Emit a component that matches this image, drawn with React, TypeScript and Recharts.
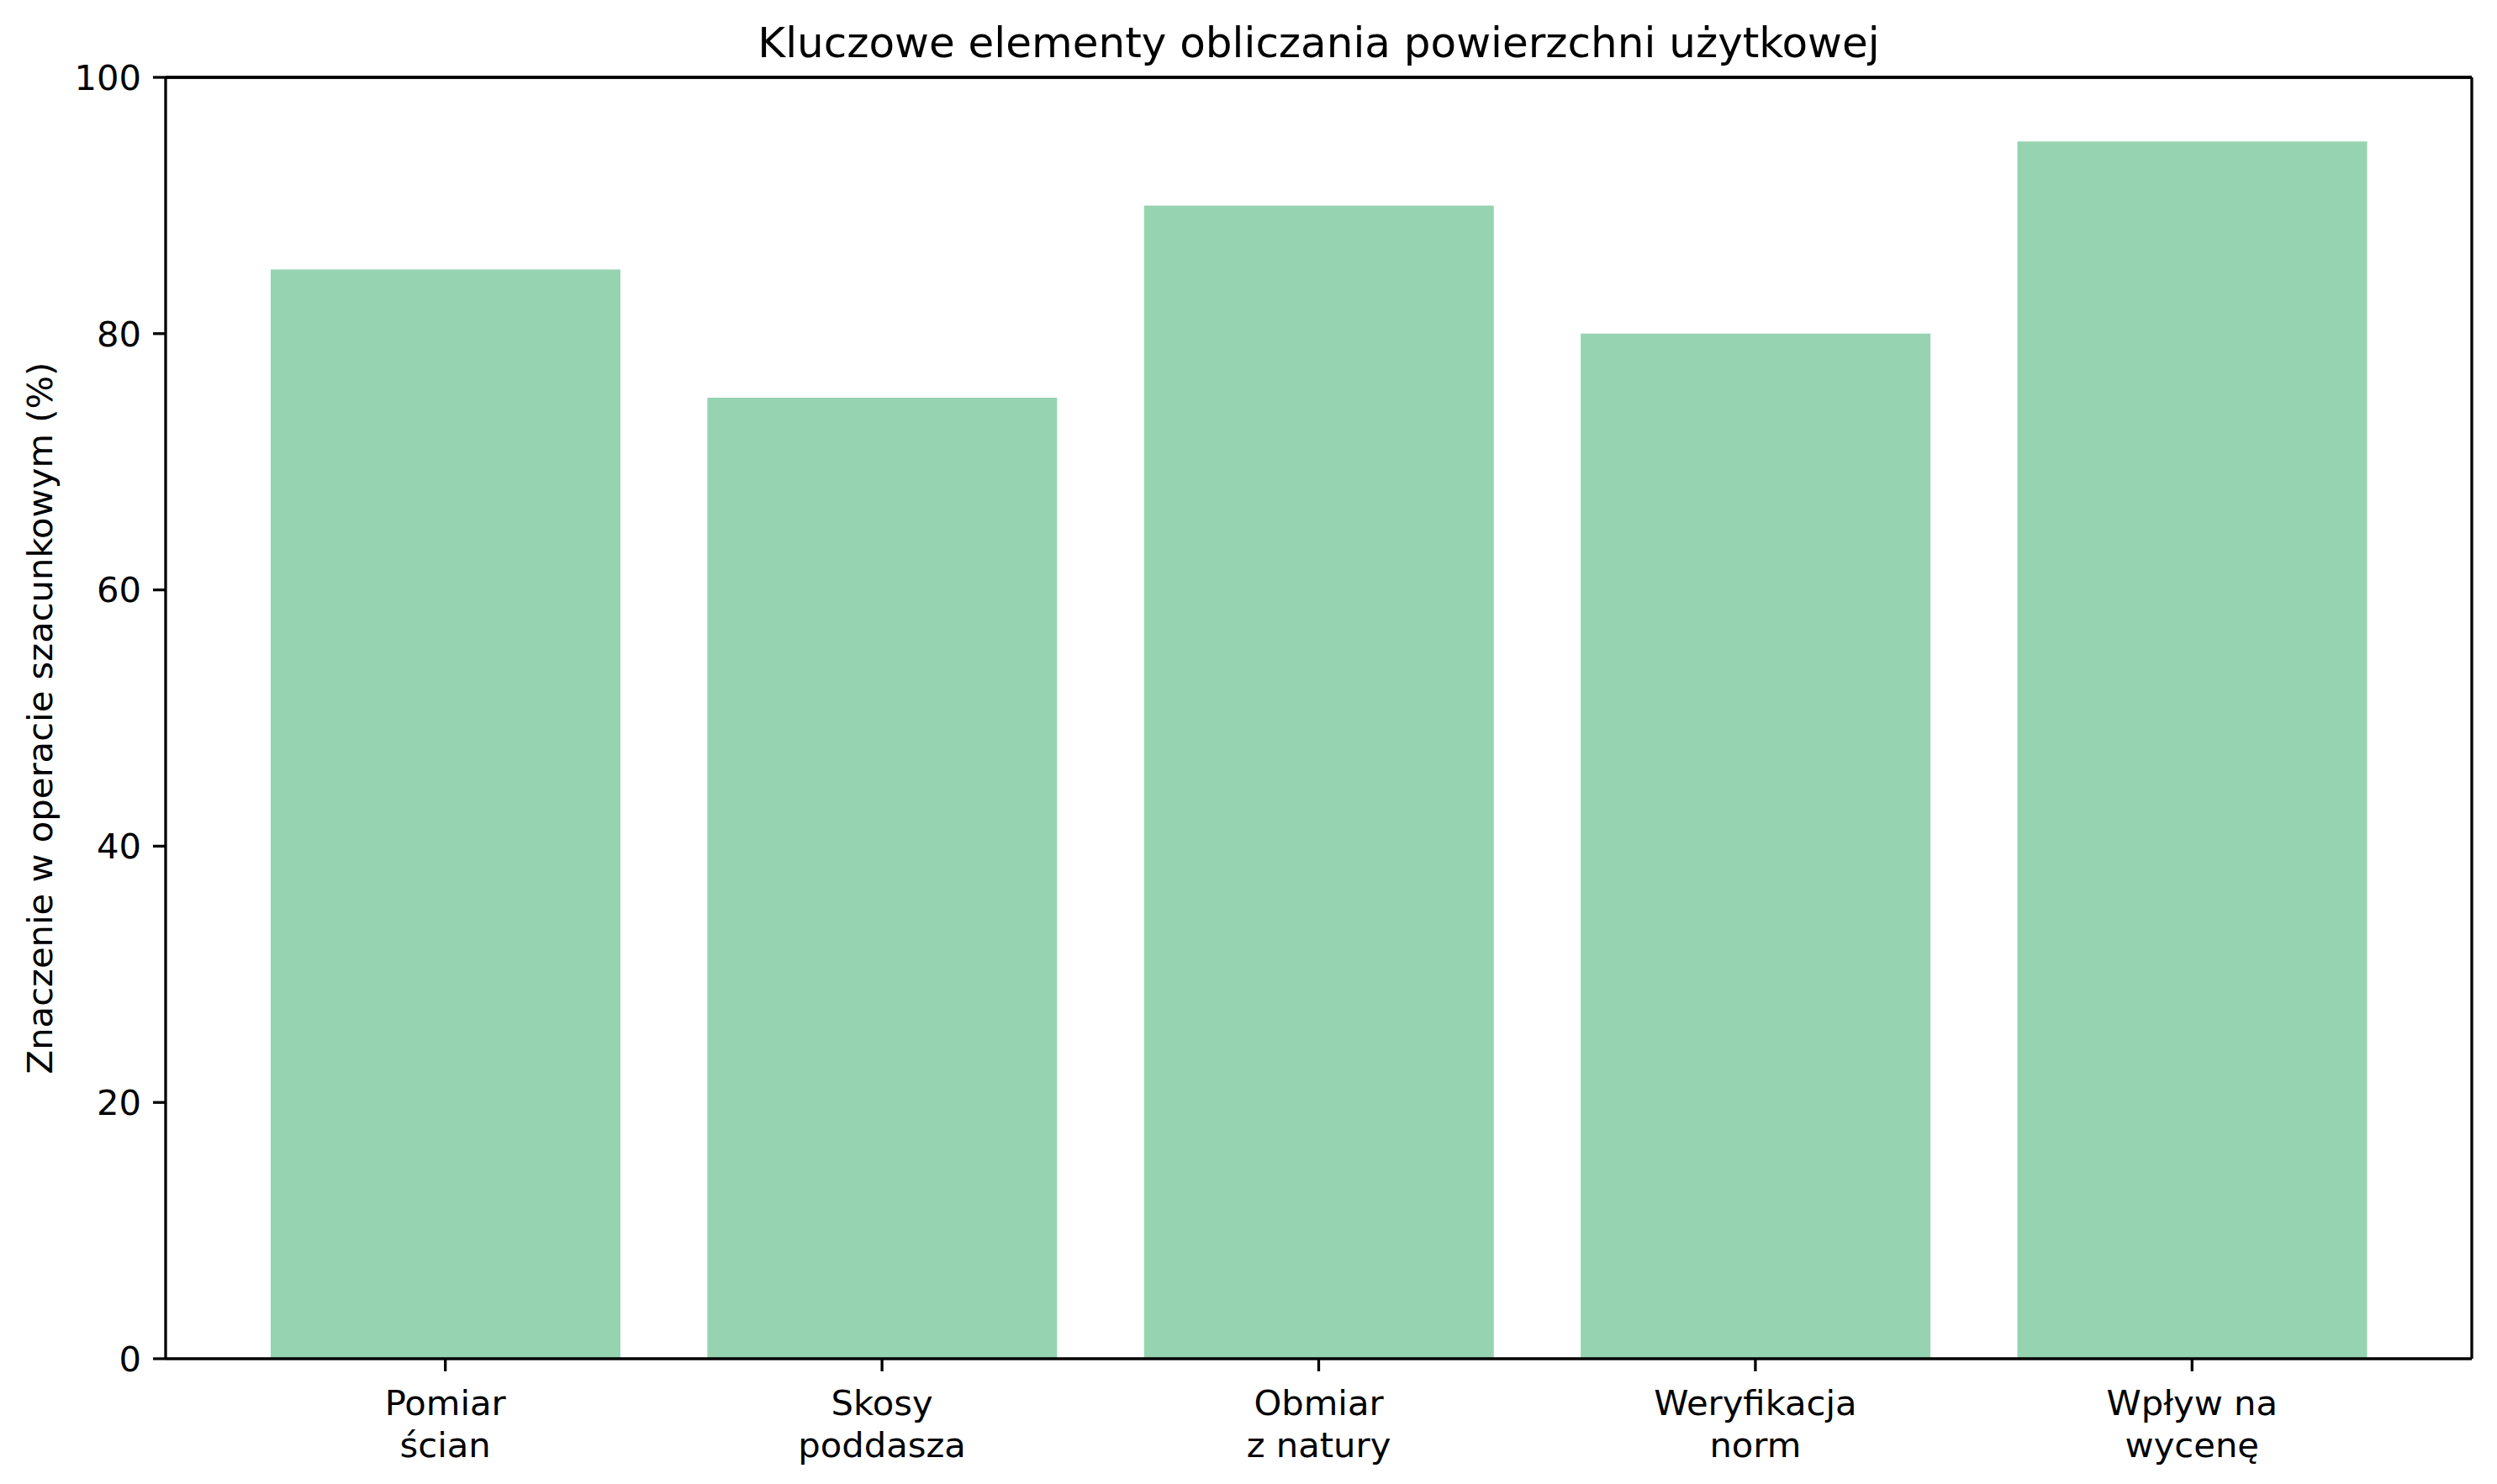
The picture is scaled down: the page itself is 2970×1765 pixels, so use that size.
import { BarChart, Bar, XAxis, YAxis, ReferenceLine } from 'recharts';

const categories = ['Pomiar\nścian', 'Skosy\npoddasza', 'Obmiar\nz natury', 'Weryfikacja\nnorm', 'Wpływ na\nwycenę'];
const importance = [85, 75, 90, 80, 95];
const yTicks = [0, 20, 40, 60, 80, 100];

const title = 'Kluczowe elementy obliczania powierzchni użytkowej';
const yLabel = 'Znaczenie w operacie szacunkowym (%)';

const data = categories.map((name, i) => ({ name, value: importance[i] }));

const FONT = '"DejaVu Sans", sans-serif';
const W = 2970;
const H = 1765;

const CategoryTick = (props: any) => {
  const { x, y, payload } = props;
  const lines = String(payload.value).split('\n');
  return (
    <text x={x} y={y} textAnchor="middle" fontFamily={FONT} fontSize={41.7} fill="#000">
      {lines.map((line, i) => (
        <tspan key={i} x={x} dy={i === 0 ? 52 : 50}>
          {line}
        </tspan>
      ))}
    </text>
  );
};

const App = () => {
  return (
    <div style={{ position: 'absolute', left: 0, top: 0, width: W, height: H, background: '#fff' }}>
      <BarChart
        width={W}
        height={H}
        data={data}
        margin={{ top: 91, right: 29, bottom: 0, left: 0 }}
        barCategoryGap="10%"
      >
        <XAxis
          dataKey="name"
          height={149}
          padding={{ left: 73, right: 73 }}
          tick={<CategoryTick />}
          tickSize={15}
          tickMargin={0}
          axisLine={{ stroke: '#000', strokeWidth: 3.3 }}
          tickLine={{ stroke: '#000', strokeWidth: 3.3 }}
          interval={0}
        />
        <XAxis
          xAxisId="top"
          dataKey="name"
          orientation="top"
          height={1}
          padding={{ left: 73, right: 73 }}
          tick={false}
          tickLine={false}
          axisLine={{ stroke: '#000', strokeWidth: 3.3 }}
        />
        <YAxis
          width={197}
          domain={[0, 100]}
          ticks={yTicks}
          tickSize={15}
          tickMargin={14}
          tick={{ fontFamily: FONT, fontSize: 41.7, fill: '#000' }}
          axisLine={{ stroke: '#000', strokeWidth: 3.3 }}
          tickLine={{ stroke: '#000', strokeWidth: 3.3 }}
        />
        <YAxis
          yAxisId="right"
          orientation="right"
          width={1}
          domain={[0, 100]}
          tick={false}
          tickLine={false}
          axisLine={{ stroke: '#000', strokeWidth: 3.3 }}
        />
        <ReferenceLine y={100} stroke="#000" strokeWidth={3.3} ifOverflow="visible" />
        <Bar dataKey="value" fill="#96D4B1" isAnimationActive={false} />
      </BarChart>
      <svg
        width={W}
        height={H}
        style={{ position: 'absolute', left: 0, top: 0, pointerEvents: 'none' }}
      >
        <text x={1568.5} y={68} textAnchor="middle" fontFamily={FONT} fontSize={50} fill="#000">
          {title}
        </text>
        <text
          x={62}
          y={854}
          textAnchor="middle"
          fontFamily={FONT}
          fontSize={41.7}
          fill="#000"
          transform="rotate(-90 62 854)"
        >
          {yLabel}
        </text>
      </svg>
    </div>
  );
};

export default App;
